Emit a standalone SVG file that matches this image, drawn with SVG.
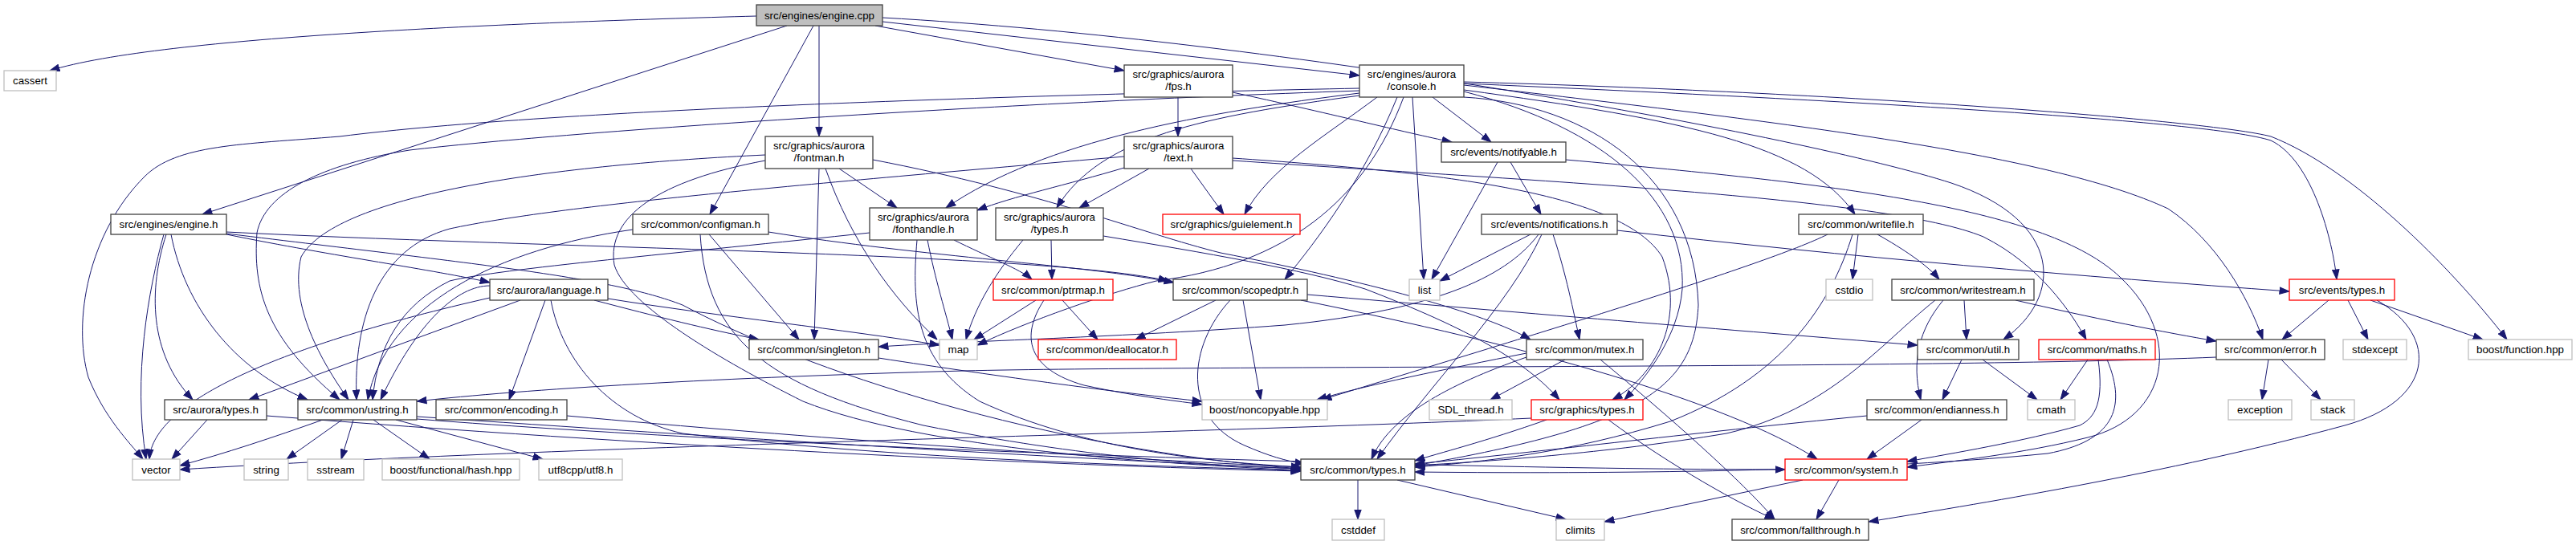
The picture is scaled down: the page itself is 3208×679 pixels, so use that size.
<svg xmlns="http://www.w3.org/2000/svg" width="3208" height="679" viewBox="0 0 3208 679">
<style>
.e{fill:none;stroke:#191970;stroke-width:1;marker-end:url(#arr)}
.n rect{fill:#ffffff;stroke:#404040;stroke-width:1.3}
.g rect{fill:#ffffff;stroke:#bfbfbf;stroke-width:1.3}
.r rect{fill:#ffffff;stroke:#ff0000;stroke-width:1.3}
.root rect{fill:#bfbfbf;stroke:#404040;stroke-width:1.3}
text{font-family:"Liberation Sans",Arial,Helvetica,sans-serif;font-size:13.33px;fill:#000000;text-anchor:middle}
</style>
<defs>
<marker id="arr" markerUnits="userSpaceOnUse" markerWidth="13" markerHeight="10" viewBox="0 0 13 10" refX="12.5" refY="5" orient="auto">
<path d="M0.5,0.8 L12.5,5 L0.5,9.2 z" fill="#191970" stroke="#191970" stroke-width="1"/>
</marker>
</defs>
<rect x="0" y="0" width="3208" height="679" fill="#ffffff"/>
<g id="edges">
<path class="e" d="M942,20 C650,28 200,45 62,88"/>
<path class="e" d="M980,32 L252,267"/>
<path class="e" d="M1013,32 L884,267"/>
<path class="e" d="M1020,32 L1020,170"/>
<path class="e" d="M1090,32 L1400,88"/>
<path class="e" d="M1099,27 L1693,94"/>
<path class="e" d="M1099,22 C1600,50 2250,170 2430,228 C2570,275 2570,370 2495,423"/>
<path class="e" d="M204,292 C185,360 165,470 182,572"/>
<path class="e" d="M207,292 C185,360 185,440 240,498"/>
<path class="e" d="M213,292 C230,380 290,460 383,498"/>
<path class="e" d="M282,292 C420,320 540,336 610,352"/>
<path class="e" d="M282,289 C700,310 1300,315 1455,350"/>
<path class="e" d="M282,291 C600,330 760,345 850,380 C1000,460 1300,560 1620,584"/>
<path class="e" d="M788,286 C620,310 480,380 458,498"/>
<path class="e" d="M872,292 C880,420 950,480 1150,530 C1350,570 1500,580 1620,584"/>
<path class="e" d="M883,292 L995,423"/>
<path class="e" d="M957,289 C1150,320 1350,330 1462,352"/>
<path class="e" d="M953,193 C700,205 420,240 375,320 C360,380 400,450 434,498"/>
<path class="e" d="M953,200 C820,225 755,270 765,330 C780,380 900,450 1000,500 C1150,560 1450,578 1620,586"/>
<path class="e" d="M1020,210 L1014,423"/>
<path class="e" d="M1028,210 C1060,300 1110,370 1167,423"/>
<path class="e" d="M1087,199 C1300,240 1420,290 1520,315 C1700,350 1850,390 1906,423"/>
<path class="e" d="M1045,210 L1117,259"/>
<path class="e" d="M1467,121 L1467,170"/>
<path class="e" d="M1535,115 C1650,140 1750,165 1808,177"/>
<path class="e" d="M1693,110 C1300,118 700,135 423,170 C300,180 220,180 180,220 C110,290 90,400 110,470 C130,520 160,550 178,572"/>
<path class="e" d="M1693,113 C1200,130 700,165 510,187 C400,205 330,240 320,290 C315,360 330,420 423,498"/>
<path class="e" d="M1693,116 C1500,140 1300,175 1178,259"/>
<path class="e" d="M1693,119 C1500,145 1370,170 1316,259"/>
<path class="e" d="M1715,121 C1650,170 1580,210 1550,267"/>
<path class="e" d="M1748,121 C1700,250 1600,330 1440,350 C1380,365 1280,400 1217,430"/>
<path class="e" d="M1740,121 C1700,220 1640,300 1600,348"/>
<path class="e" d="M1759,121 L1773,348"/>
<path class="e" d="M1784,121 L1857,177"/>
<path class="e" d="M1823,112 C2100,150 2250,180 2310,267"/>
<path class="e" d="M1823,114 C2000,160 2100,250 2095,360 C2090,420 2050,470 2023,498"/>
<path class="e" d="M1823,121 C1980,130 2110,220 2115,380 C2110,480 2050,530 1762,580"/>
<path class="e" d="M1823,106 C2200,150 2550,190 2700,260 C2760,300 2800,370 2818,423"/>
<path class="e" d="M1823,104 C2300,125 2750,150 2828,175 C2880,200 2905,300 2910,348"/>
<path class="e" d="M1823,102 C2300,115 2750,150 2828,170 C2930,210 3050,330 3122,423"/>
<path class="e" d="M1400,209 C1330,230 1260,245 1217,262"/>
<path class="e" d="M1431,210 L1344,259"/>
<path class="e" d="M1483,210 L1524,267"/>
<path class="e" d="M1400,195 C1000,230 700,255 560,285 C470,310 440,400 444,498"/>
<path class="e" d="M1535,197 C1800,215 2020,240 2070,320 C2100,400 2060,470 2008,498"/>
<path class="e" d="M1535,200 C1900,225 2350,245 2470,295 C2540,330 2580,390 2598,423"/>
<path class="e" d="M1865,202 L1783,348"/>
<path class="e" d="M1881,202 L1919,267"/>
<path class="e" d="M1950,199 C2300,230 2550,260 2640,345 C2720,420 2700,520 2600,545 C2520,565 2430,575 2375,582"/>
<path class="e" d="M1083,290 C850,315 620,335 560,350 C500,380 470,430 464,498"/>
<path class="e" d="M1142,299 C1135,380 1140,450 1220,500 C1350,560 1500,575 1620,582"/>
<path class="e" d="M1155,299 C1165,350 1178,390 1186,423"/>
<path class="e" d="M1188,299 C1230,320 1270,335 1285,348"/>
<path class="e" d="M1274,299 C1240,340 1215,380 1203,423"/>
<path class="e" d="M1309,299 L1310,348"/>
<path class="e" d="M1374,294 C1500,315 1620,335 1700,360 C1830,410 1900,450 1942,498"/>
<path class="e" d="M1906,292 L1793,350"/>
<path class="e" d="M1916,292 C1880,340 1800,385 1600,405 C1400,420 1200,425 1094,432"/>
<path class="e" d="M1920,292 C1880,380 1780,480 1715,572"/>
<path class="e" d="M1934,292 C1950,340 1960,390 1967,423"/>
<path class="e" d="M2014,287 C2300,320 2600,345 2851,363"/>
<path class="e" d="M2314,292 L2307,348"/>
<path class="e" d="M2338,292 C2370,310 2400,330 2415,348"/>
<path class="e" d="M2276,292 C2200,330 1900,420 1646,498"/>
<path class="e" d="M2307,292 C2280,380 2220,470 2080,525 C1950,565 1850,575 1762,582"/>
<path class="e" d="M610,371 C350,430 190,500 186,572"/>
<path class="e" d="M648,374 L310,498"/>
<path class="e" d="M679,374 L634,498"/>
<path class="e" d="M686,374 C700,450 760,520 850,540 C1100,570 1400,580 1620,586"/>
<path class="e" d="M757,372 C900,395 1050,410 1170,430"/>
<path class="e" d="M740,374 C820,395 880,410 945,423"/>
<path class="e" d="M610,356 C570,356 520,400 474,498"/>
<path class="e" d="M1290,374 L1213,423"/>
<path class="e" d="M1300,374 C1270,420 1280,460 1350,480 C1420,495 1470,500 1497,504"/>
<path class="e" d="M1323,374 L1367,423"/>
<path class="e" d="M1514,374 L1414,423"/>
<path class="e" d="M1532,374 C1480,430 1470,520 1550,555 C1580,568 1600,574 1625,578"/>
<path class="e" d="M1548,374 L1570,498"/>
<path class="e" d="M1628,367 C1900,390 2200,415 2388,430"/>
<path class="e" d="M1620,374 C1900,430 2150,500 2263,572"/>
<path class="e" d="M1094,446 C1250,470 1400,490 1497,500"/>
<path class="e" d="M1949,448 L1856,498"/>
<path class="e" d="M1901,445 C1800,480 1730,520 1708,572"/>
<path class="e" d="M1901,440 C1800,460 1700,480 1640,498"/>
<path class="e" d="M1993,448 C2080,520 2170,600 2210,647"/>
<path class="e" d="M2446,374 L2449,423"/>
<path class="e" d="M2420,374 C2390,410 2380,450 2392,498"/>
<path class="e" d="M2510,374 C2600,395 2700,415 2760,425"/>
<path class="e" d="M2410,374 C2340,430 2280,510 2150,540 C2000,565 1850,575 1762,580"/>
<path class="e" d="M2900,374 L2842,423"/>
<path class="e" d="M2924,374 L2949,423"/>
<path class="e" d="M2952,374 L3092,423"/>
<path class="e" d="M2960,374 C3040,420 3030,500 2920,530 C2700,590 2450,630 2327,650"/>
<path class="e" d="M2443,448 L2419,498"/>
<path class="e" d="M2469,448 L2537,498"/>
<path class="e" d="M2600,448 L2566,498"/>
<path class="e" d="M2613,448 C2620,500 2610,520 2590,530 C2520,550 2430,565 2375,575"/>
<path class="e" d="M2624,448 C2650,510 2630,550 2550,565 C2300,590 1950,590 1762,588"/>
<path class="e" d="M2825,448 L2817,498"/>
<path class="e" d="M2841,448 L2890,498"/>
<path class="e" d="M2760,445 C2400,460 1500,455 1200,462 C900,470 650,485 519,500"/>
<path class="e" d="M258,523 L214,572"/>
<path class="e" d="M332,518 C800,555 1300,580 1620,587"/>
<path class="e" d="M402,523 C340,545 280,565 224,580"/>
<path class="e" d="M426,523 L357,572"/>
<path class="e" d="M440,523 L425,572"/>
<path class="e" d="M465,523 L535,572"/>
<path class="e" d="M493,523 L676,572"/>
<path class="e" d="M519,519 C900,545 1300,570 1620,584"/>
<path class="e" d="M519,522 C1000,560 1800,585 2223,585"/>
<path class="e" d="M706,518 C1000,545 1350,570 1620,582"/>
<path class="e" d="M1907,521 C1500,540 700,555 224,585"/>
<path class="e" d="M1926,523 C1850,550 1790,565 1762,574"/>
<path class="e" d="M2003,523 C2080,580 2170,630 2210,647"/>
<path class="e" d="M2393,523 L2325,572"/>
<path class="e" d="M2325,518 C2100,540 1900,565 1762,578"/>
<path class="e" d="M1691,598 L1691,647"/>
<path class="e" d="M1740,598 L1950,647"/>
<path class="e" d="M2245,598 L1998,650"/>
<path class="e" d="M2290,598 L2262,647"/>
</g>
<g id="node-engine-cpp" class="root"><rect x="942" y="6" width="157" height="26"/><text x="1020.5" y="24">src/engines/engine.cpp</text></g>
<g id="node-cassert" class="g"><rect x="5" y="88" width="65" height="25"/><text x="37.5" y="105">cassert</text></g>
<g id="node-fps" class="n"><rect x="1400" y="81" width="135" height="40"/><text x="1467.5" y="97">src/graphics/aurora</text><text x="1467.5" y="112">/fps.h</text></g>
<g id="node-console" class="n"><rect x="1693" y="81" width="130" height="40"/><text x="1758" y="97">src/engines/aurora</text><text x="1758" y="112">/console.h</text></g>
<g id="node-fontman" class="n"><rect x="953" y="170" width="134" height="40"/><text x="1020" y="186">src/graphics/aurora</text><text x="1020" y="201">/fontman.h</text></g>
<g id="node-text" class="n"><rect x="1400" y="170" width="135" height="40"/><text x="1467.5" y="186">src/graphics/aurora</text><text x="1467.5" y="201">/text.h</text></g>
<g id="node-notifyable" class="n"><rect x="1795" y="177" width="155" height="25"/><text x="1872.5" y="194">src/events/notifyable.h</text></g>
<g id="node-engine-h" class="n"><rect x="138" y="267" width="144" height="25"/><text x="210" y="284">src/engines/engine.h</text></g>
<g id="node-configman" class="n"><rect x="788" y="267" width="169" height="25"/><text x="872.5" y="284">src/common/configman.h</text></g>
<g id="node-fonthandle" class="n"><rect x="1083" y="259" width="134" height="40"/><text x="1150" y="275">src/graphics/aurora</text><text x="1150" y="290">/fonthandle.h</text></g>
<g id="node-gaurora-types" class="n"><rect x="1240" y="259" width="134" height="40"/><text x="1307" y="275">src/graphics/aurora</text><text x="1307" y="290">/types.h</text></g>
<g id="node-guielement" class="r"><rect x="1448" y="267" width="171" height="25"/><text x="1533.5" y="284">src/graphics/guielement.h</text></g>
<g id="node-notifications" class="n"><rect x="1845" y="267" width="169" height="25"/><text x="1929.5" y="284">src/events/notifications.h</text></g>
<g id="node-writefile" class="n"><rect x="2240" y="267" width="155" height="25"/><text x="2317.5" y="284">src/common/writefile.h</text></g>
<g id="node-language" class="n"><rect x="610" y="348" width="147" height="26"/><text x="683.5" y="366">src/aurora/language.h</text></g>
<g id="node-ptrmap" class="r"><rect x="1237" y="348" width="149" height="26"/><text x="1311.5" y="366">src/common/ptrmap.h</text></g>
<g id="node-scopedptr" class="n"><rect x="1461" y="348" width="167" height="26"/><text x="1544.5" y="366">src/common/scopedptr.h</text></g>
<g id="node-list" class="g"><rect x="1755" y="348" width="38" height="26"/><text x="1774" y="366">list</text></g>
<g id="node-cstdio" class="g"><rect x="2274" y="348" width="58" height="26"/><text x="2303" y="366">cstdio</text></g>
<g id="node-writestream" class="n"><rect x="2356" y="348" width="177" height="26"/><text x="2444.5" y="366">src/common/writestream.h</text></g>
<g id="node-events-types" class="r"><rect x="2851" y="348" width="131" height="26"/><text x="2916.5" y="366">src/events/types.h</text></g>
<g id="node-singleton" class="n"><rect x="933" y="423" width="161" height="25"/><text x="1013.5" y="440">src/common/singleton.h</text></g>
<g id="node-map" class="g"><rect x="1170" y="423" width="47" height="25"/><text x="1193.5" y="440">map</text></g>
<g id="node-deallocator" class="r"><rect x="1293" y="423" width="172" height="25"/><text x="1379" y="440">src/common/deallocator.h</text></g>
<g id="node-mutex" class="n"><rect x="1901" y="423" width="145" height="25"/><text x="1973.5" y="440">src/common/mutex.h</text></g>
<g id="node-util" class="n"><rect x="2388" y="423" width="126" height="25"/><text x="2451" y="440">src/common/util.h</text></g>
<g id="node-maths" class="r"><rect x="2539" y="423" width="145" height="25"/><text x="2611.5" y="440">src/common/maths.h</text></g>
<g id="node-error" class="n"><rect x="2760" y="423" width="135" height="25"/><text x="2827.5" y="440">src/common/error.h</text></g>
<g id="node-stdexcept" class="g"><rect x="2918" y="423" width="79" height="25"/><text x="2957.5" y="440">stdexcept</text></g>
<g id="node-boost-function" class="g"><rect x="3074" y="423" width="129" height="25"/><text x="3138.5" y="440">boost/function.hpp</text></g>
<g id="node-aurora-types" class="n"><rect x="205" y="498" width="127" height="25"/><text x="268.5" y="515">src/aurora/types.h</text></g>
<g id="node-ustring" class="n"><rect x="371" y="498" width="148" height="25"/><text x="445" y="515">src/common/ustring.h</text></g>
<g id="node-encoding" class="n"><rect x="543" y="498" width="163" height="25"/><text x="624.5" y="515">src/common/encoding.h</text></g>
<g id="node-noncopyable" class="g"><rect x="1497" y="498" width="156" height="25"/><text x="1575" y="515">boost/noncopyable.hpp</text></g>
<g id="node-sdl-thread" class="g"><rect x="1780" y="498" width="103" height="25"/><text x="1831.5" y="515">SDL_thread.h</text></g>
<g id="node-graphics-types" class="r"><rect x="1907" y="498" width="139" height="25"/><text x="1976.5" y="515">src/graphics/types.h</text></g>
<g id="node-endianness" class="n"><rect x="2325" y="498" width="174" height="25"/><text x="2412" y="515">src/common/endianness.h</text></g>
<g id="node-cmath" class="g"><rect x="2525" y="498" width="59" height="25"/><text x="2554.5" y="515">cmath</text></g>
<g id="node-exception" class="g"><rect x="2775" y="498" width="79" height="25"/><text x="2814.5" y="515">exception</text></g>
<g id="node-stack" class="g"><rect x="2878" y="498" width="54" height="25"/><text x="2905" y="515">stack</text></g>
<g id="node-vector" class="g"><rect x="165" y="572" width="59" height="26"/><text x="194.5" y="590">vector</text></g>
<g id="node-string" class="g"><rect x="304" y="572" width="55" height="26"/><text x="331.5" y="590">string</text></g>
<g id="node-sstream" class="g"><rect x="383" y="572" width="70" height="26"/><text x="418" y="590">sstream</text></g>
<g id="node-hash" class="g"><rect x="476" y="572" width="171" height="26"/><text x="561.5" y="590">boost/functional/hash.hpp</text></g>
<g id="node-utf8" class="g"><rect x="671" y="572" width="104" height="26"/><text x="723" y="590">utf8cpp/utf8.h</text></g>
<g id="node-common-types" class="n"><rect x="1620" y="572" width="142" height="26"/><text x="1691" y="590">src/common/types.h</text></g>
<g id="node-system" class="r"><rect x="2223" y="572" width="152" height="26"/><text x="2299" y="590">src/common/system.h</text></g>
<g id="node-cstddef" class="g"><rect x="1659" y="647" width="65" height="26"/><text x="1691.5" y="665">cstddef</text></g>
<g id="node-climits" class="g"><rect x="1938" y="647" width="60" height="26"/><text x="1968" y="665">climits</text></g>
<g id="node-fallthrough" class="n"><rect x="2157" y="647" width="170" height="26"/><text x="2242" y="665">src/common/fallthrough.h</text></g>
</svg>
